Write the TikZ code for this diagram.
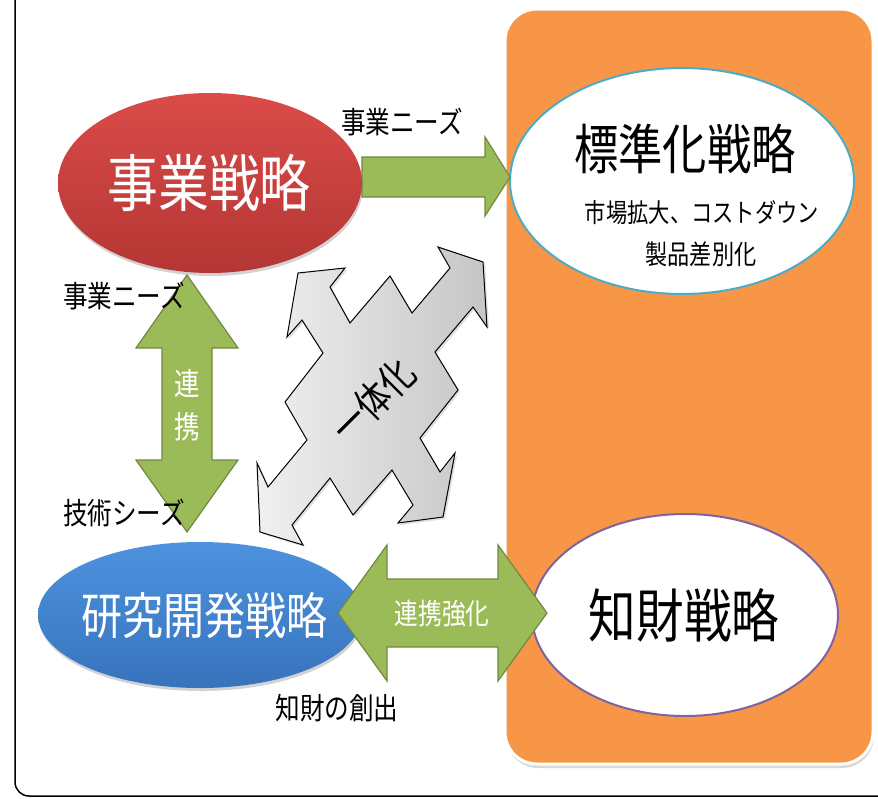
\documentclass[tikz,border=0pt]{standalone}
\usepackage{fontspec}
\newfontfamily\jp[FakeStretch=0.82]{Noto Sans CJK JP}
\usetikzlibrary{shapes.geometric,shadows}
\definecolor{redA}{HTML}{DA4B49}
\definecolor{redB}{HTML}{B43634}
\definecolor{blueA}{HTML}{4D92DE}
\definecolor{blueB}{HTML}{3873BC}
\definecolor{grnF}{HTML}{9BBB59}
\definecolor{grnD}{HTML}{71893F}
\definecolor{orng}{HTML}{F79646}
\definecolor{tealB}{HTML}{4BACC6}
\definecolor{purB}{HTML}{7F63A1}
\begin{document}
\begin{tikzpicture}[x=1pt,y=-1pt,
  fsz/.style={font=\jp\fontsize{#1}{#1}\selectfont},
  softshadow/.style={drop shadow={opacity=0.35,shadow xshift=1pt,shadow yshift=-3pt}},
  greenarrow/.style={fill=grnF,draw=grnD,line width=1.2pt,line join=miter},
  blackt/.style={text=black,inner sep=0pt},
  whitet/.style={text=white,inner sep=0pt}]
\useasboundingbox (0,0) rectangle (878,798);
\fill[white] (0,0) rectangle (878,798);
% outer frame
\draw[line width=1.5pt,rounded corners=14pt] (15,-10) -- (15,796) -- (890,796);
% orange panel
\draw[fill=orng,draw=white,line width=3pt,rounded corners=32pt,
  drop shadow={opacity=0.3,shadow xshift=1pt,shadow yshift=-4pt}] (505,9) rectangle (873,764);
% ellipses
\node[ellipse,minimum width=344pt,minimum height=226pt,fill=white,draw=tealB,line width=2pt] (std) at (682,181) {};
\node[ellipse,minimum width=306pt,minimum height=202pt,fill=white,draw=purB,line width=2pt] (ip) at (685,615) {};
% top arrow
\draw[greenarrow] (362,157) -- (485,157) -- (485,137) -- (510,177) -- (485,216) -- (485,197) -- (362,197) -- cycle;
\node[ellipse,minimum width=304pt,minimum height=180pt,top color=redA,bottom color=redB,softshadow] (biz) at (210,183) {};
\node[ellipse,minimum width=324pt,minimum height=146pt,top color=blueA,bottom color=blueB,softshadow] (rd) at (200,615) {};
% vertical double arrow
\draw[greenarrow] (187,275) -- (238,348) -- (212,348) -- (212,460) -- (238,460) -- (187,532) -- (136,460) -- (162,460) -- (162,348) -- (136,348) -- cycle;
% bottom double arrow
\draw[greenarrow] (338,613) -- (387,545) -- (387,579) -- (498,579) -- (498,545) -- (547,613) -- (498,681) -- (498,647) -- (387,647) -- (387,681) -- cycle;
% gray four-way shape
\draw[left color=gray!12,right color=gray!45,draw=black,line width=1pt,line join=miter,
  drop shadow={opacity=0.25,shadow xshift=2pt,shadow yshift=-2pt}]
  (298,273) -- (345,268) -- (330,287) -- (350,323) -- (390,276) -- (412,313) -- (450,268) -- (438,247) -- (483,262) -- (487,327) -- (473,307) -- (435,352) -- (458,390) -- (420,438) -- (440,472) -- (455,453) -- (443,517) -- (398,523) -- (413,505) -- (392,470) -- (353,515) -- (330,478) -- (292,525) -- (303,545) -- (260,532) -- (257,463) -- (268,487) -- (307,440) -- (285,402) -- (323,353) -- (302,320) -- (287,337) -- cycle;
% texts
\node[whitet,fsz=62] (tbiz) at (209,183) {事業戦略};
\node[blackt,fsz=54] (tstd) at (685,149) {標準化戦略};
\node[blackt,fsz=26] (tstd2) at (702,213) {市場拡大、コストダウン};
\node[blackt,fsz=27] (tstd3) at (701,254) {製品差別化};
\node[blackt,fsz=30] (lneed1) at (402,122) {事業ニーズ};
\node[blackt,fsz=30] (lneed2) at (124,296) {事業ニーズ};
\node[blackt,fsz=30] (lseed) at (124,513) {技術シーズ};
\node[whitet,font=\jp\fontsize{31}{43}\selectfont,align=center] (tlink) at (187,405) {連\\携};
\node[whitet,fsz=50] (trd) at (204,616) {研究開発戦略};
\node[whitet,fsz=29] (tlink2) at (442,614) {連携強化};
\node[blackt,fsz=30] (lcreate) at (337,708) {知財の創出};
\node[blackt,fsz=58] (tip) at (684,615) {知財戦略};
\node[blackt,fsz=40,rotate=45] (tone) at (373,400) {一体化};
\end{tikzpicture}
\end{document}
